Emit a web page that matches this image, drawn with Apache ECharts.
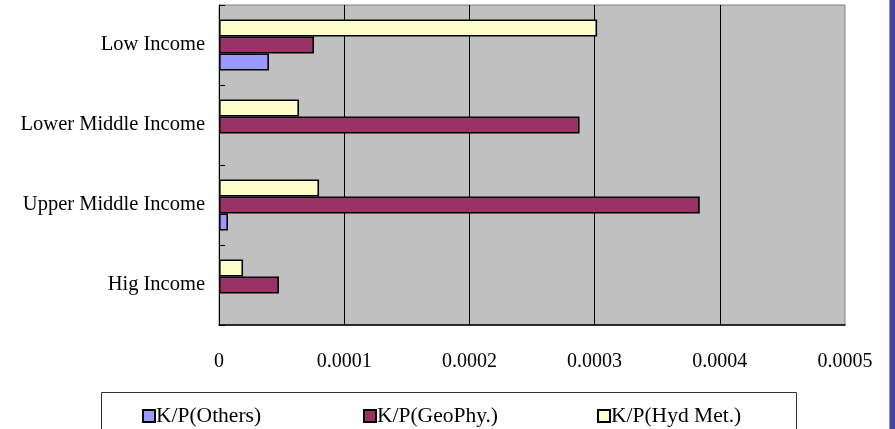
<!DOCTYPE html>
<html>
<head>
<meta charset="utf-8">
<script src="https://cdn.jsdelivr.net/npm/echarts@6/dist/echarts.min.js"></script>
<style>
  html, body { margin: 0; padding: 0; background: #ffffff; }
  #chart { width: 895px; height: 429px; }
</style>
</head>
<body>
<div id="chart"></div>
<script>
// Income groups, listed bottom to top along the category axis
const categories = ['Hig Income', 'Upper Middle Income', 'Lower Middle Income', 'Low Income'];

// K/P ratios per income group (same order as categories); null = no bar
const others = [null, 0.0000072, null, 0.0000399];
const geoPhy = [0.0000479, 0.000384, 0.000288, 0.0000759];
const hydMet = [0.0000192, 0.0000799, 0.0000639, 0.000302];

const seriesNames = ['K/P(Others)', 'K/P(GeoPhy.)', 'K/P(Hyd Met.)'];
const xTicks = [0, 0.0001, 0.0002, 0.0003, 0.0004, 0.0005];

const FONT = "'Liberation Serif', 'DejaVu Serif', serif";

const chart = echarts.init(document.getElementById('chart'), null, { renderer: 'canvas' });

function barSeries(name, data, color) {
  return {
    name: name,
    type: 'bar',
    data: data,
    barWidth: 17,
    barGap: '0%',
    itemStyle: { color: color, borderColor: '#000', borderWidth: 1.6 }
  };
}

// one legend block per series so each key sits at its own spot in the box
const legendLefts = [142, 363, 597];
const legends = seriesNames.map((n, i) => ({
  data: [n],
  left: legendLefts[i], top: 405,
  padding: 0,
  itemWidth: 12, itemHeight: 12,
  icon: 'rect',
  textStyle: { fontSize: 21.5, color: '#000', fontFamily: FONT, padding: [0, 0, 0, -4] }
}));

chart.setOption({
  animation: false,
  backgroundColor: '#ffffff',
  textStyle: { fontFamily: FONT, color: '#000' },
  grid: {
    left: 219, right: 50, top: 5, bottom: 104,
    show: true, backgroundColor: '#C0C0C0', borderColor: '#808080', borderWidth: 1
  },
  xAxis: {
    type: 'value',
    min: xTicks[0],
    max: xTicks[xTicks.length - 1],
    interval: xTicks[1] - xTicks[0],
    axisLine: { show: true, lineStyle: { color: '#000', width: 1.5 } },
    axisTick: { show: false },
    axisLabel: {
      margin: 27, fontSize: 20, color: '#000', fontFamily: FONT,
      formatter: v => (v === 0 ? '0' : v.toFixed(4))
    },
    splitLine: { show: true, showMinLine: false, showMaxLine: false, lineStyle: { color: '#000', width: 1 } }
  },
  yAxis: {
    type: 'category',
    data: categories,
    axisLine: { show: true, lineStyle: { color: '#000', width: 1 } },
    axisTick: { show: true, inside: true, length: 6, lineStyle: { color: '#000' } },
    axisLabel: { margin: 14, fontSize: 20.5, color: '#000', fontFamily: FONT }
  },
  legend: legends,
  graphic: [
    {
      type: 'rect', silent: true, z: -1,
      shape: { x: 101.5, y: 392.5, width: 695, height: 50 },
      style: { fill: '#ffffff', stroke: '#333', lineWidth: 1 }
    },
    {
      type: 'rect', silent: true,
      shape: { x: 889, y: 0, width: 6, height: 429 },
      style: { fill: '#44449f' }
    },
    {
      type: 'rect', silent: true,
      shape: { x: 889, y: 0, width: 1, height: 429 },
      style: { fill: '#9a9ad0' }
    }
  ],
  // drawn top-down within each group: Hyd Met., GeoPhy., Others
  series: [
    barSeries(seriesNames[2], hydMet, '#FFFFCC'),
    barSeries(seriesNames[1], geoPhy, '#993366'),
    barSeries(seriesNames[0], others, '#9999FF')
  ]
});
</script>
</body>
</html>
